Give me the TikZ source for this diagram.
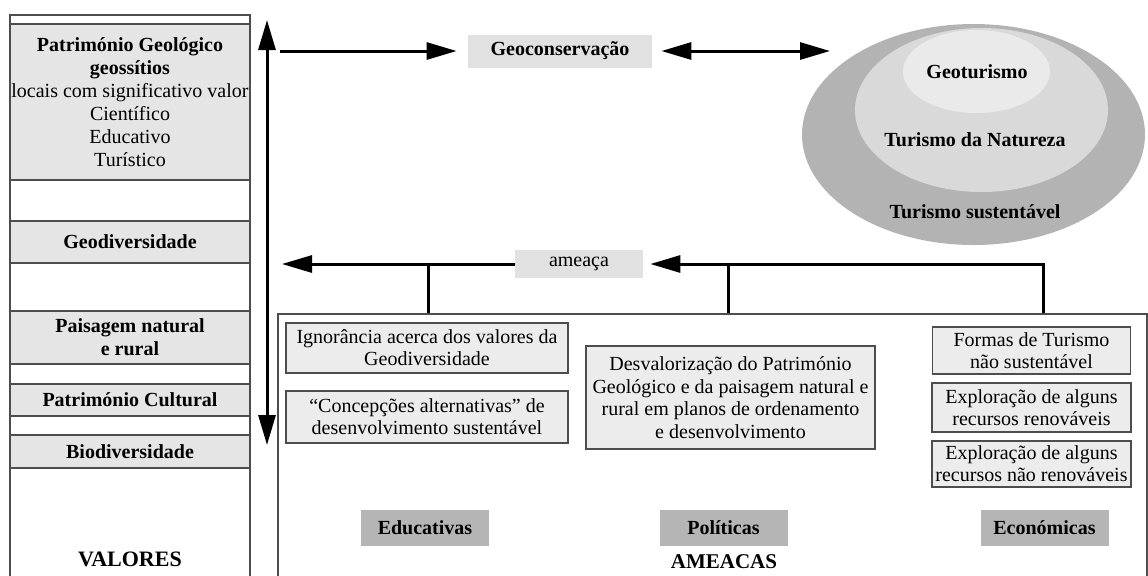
\documentclass[tikz,border=0pt]{standalone}
\usepackage{fontspec}
\setmainfont{Liberation Serif}
\usetikzlibrary{arrows.meta}
\definecolor{geoline}{HTML}{4D4D4D}
\definecolor{geoband}{HTML}{E5E5E5}
\definecolor{geobox}{HTML}{ECECEC}
\definecolor{geocat}{HTML}{B5B5B5}
\definecolor{geotag}{HTML}{E1E1E1}
\definecolor{geosust}{HTML}{B3B3B3}
\definecolor{geonat}{HTML}{D9D9D9}
\definecolor{geotur}{HTML}{EAEAEA}
\tikzset{
  band/.style={draw=geoline,line width=0.6pt,fill=geoband,minimum width=120pt,inner sep=0pt,align=center,font=\fontsize{10}{11.5}\selectfont\bfseries},
  threat/.style={draw=geoline,line width=0.6pt,fill=geobox,inner sep=0pt,align=center},
  cat/.style={fill=geocat,minimum width=64pt,minimum height=18pt,inner sep=0pt,font=\bfseries},
  tag/.style={fill=geotag,inner sep=0pt},
  arr/.style={line width=1.5pt}
}

\begin{document}
\begin{tikzpicture}[x=0.5pt,y=-0.5pt,>={Triangle[length=15pt,width=8.5pt]},font=\fontsize{10}{11}\selectfont]
  \clip (0,0) rectangle (1148,575);
  % valores
  \node[draw=geoline,line width=0.6pt,minimum width=120pt,minimum height=290pt,inner sep=0pt] (valores) at (130,305) {};
  \node[band,minimum height=78pt,font=\fontsize{10}{11.5}\selectfont] (patgeo) at (130,102) {\textbf{Património Geológico}\\\textbf{geossítios}\\locais com significativo valor\\Científico\\Educativo\\Turístico};
  \node[band,minimum height=21pt] (geodiv) at (130,242) {Geodiversidade};
  \node[band,minimum height=26.5pt] (paisagem) at (130,337.5) {Paisagem natural\\e rural};
  \node[band,minimum height=16pt] (patcult) at (130,400) {Património Cultural};
  \node[band,minimum height=16.5pt] (biodiv) at (130,451.5) {Biodiversidade};
  \node[font=\fontsize{11}{13}\selectfont\bfseries] (valtxt) at (130,559) {VALORES};
  \coordinate (vtop) at (267,20);
  \coordinate (vbot) at (267,445);
  \draw[arr,<->] (vtop) -- (vbot);
  % geoconservacao
  \node[tag,minimum width=92pt,minimum height=16.5pt,font=\bfseries] (geocons) at (560,51) {Geoconservação};
  \coordinate (hz) at (280,51);
  \coordinate (tur) at (830,51);
  \draw[arr,->,shorten >=5.5pt] (hz) -- (geocons.west);
  \draw[arr,<->,shorten <=4.5pt] (geocons.east) -- (tur);
  \fill[geosust] (973.5,134.5) ellipse[x radius=85.75pt,y radius=55.25pt];
  \fill[geonat] (981.5,110) ellipse[x radius=63.25pt,y radius=41pt];
  \fill[geotur] (976.5,71.5) ellipse[x radius=36.75pt,y radius=20.75pt];
  \node[font=\bfseries] (geoturismo) at (977,72) {Geoturismo};
  \node[font=\bfseries] (natureza) at (975,140) {Turismo da Natureza};
  \node[font=\bfseries] (sustent) at (975,212) {Turismo sustentável};
  % ameacas
  \node[draw=geoline,line width=0.6pt,minimum width=434.5pt,minimum height=140pt,inner sep=0pt] (ameacas) at (712.5,454) {};
  \node[tag,minimum width=64pt,minimum height=14pt] (ameaca) at (579,264) {ameaça};
  \coordinate (amL) at (282,264);
  \coordinate (amR) at (1043,264);
  \coordinate (s1) at (428,264);
  \coordinate (s2) at (728,264);
  \draw[arr,->] (ameaca.west) -- (amL);
  \draw[arr,->,shorten >=3.5pt] (amR |- ameacas.north) -- (amR) -- (ameaca.east);
  \draw[arr] (s1) -- (s1 |- ameacas.north);
  \draw[arr] (s2) -- (s2 |- ameacas.north);
  \node[threat,minimum width=141pt,minimum height=25pt] (ignor) at (427,348) {Ignorância acerca dos valores da\\Geodiversidade};
  \node[threat,minimum width=141pt,minimum height=26pt] (concep) at (427,417) {“Concepções alternativas” de\\desenvolvimento sustentável};
  \node[threat,minimum width=144.5pt,minimum height=51.5pt,font=\fontsize{10}{11.25}\selectfont] (desval) at (730.5,397.5) {Desvalorização do Património\\Geológico e da paisagem natural e\\rural em planos de ordenamento\\e desenvolvimento};
  \node[threat,minimum width=99pt,minimum height=23.5pt] (formas) at (1031.5,350.5) {Formas de Turismo\\não sustentável};
  \node[threat,minimum width=99.5pt,minimum height=24.5pt] (explren) at (1031.5,407.5) {Exploração de alguns\\recursos renováveis};
  \node[threat,minimum width=99.5pt,minimum height=23pt] (explnren) at (1031.5,464) {Exploração de alguns\\recursos não renováveis};
  \node[cat] (educ) at (425,528) {Educativas};
  \node[cat] (polit) at (723.5,528) {Políticas};
  \node[cat] (econ) at (1044.5,528) {Económicas};
  \node[font=\fontsize{10.5}{12}\selectfont\bfseries] (ameactxt) at (724,562) {AMEACAS};
\end{tikzpicture}
\end{document}
